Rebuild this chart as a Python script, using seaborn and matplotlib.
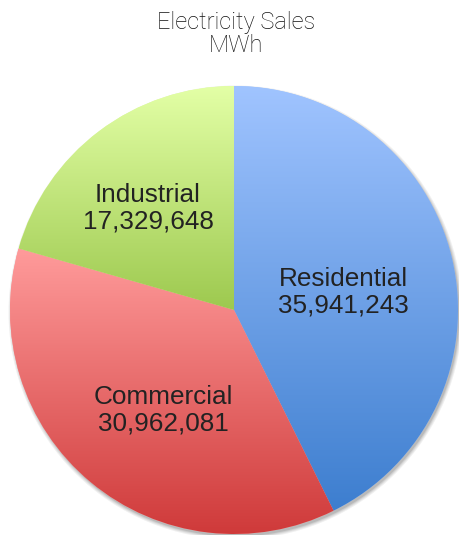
import numpy as np
import matplotlib
matplotlib.use("Agg")
import matplotlib.pyplot as plt
import seaborn as sns
from matplotlib.patches import Circle

# Electricity sales by customer class (MWh)
categories = ["Residential", "Commercial", "Industrial"]
sales_mwh = [35941243, 30962081, 17329648]
# top / bottom colours of each slice's vertical gradient
top_colors = ["#a0c4ff", "#ff9b9b", "#e3ffa6"]
bottom_colors = ["#3d7ecf", "#cf3a3a", "#9dc94f"]
# label anchor points (pixel space, y measured from the top)
label_xy = [(343, 292), (163, 410), (148, 208)]

sns.set_theme(style="white")
plt.rcParams["font.family"] = ["Liberation Sans", "DejaVu Sans"]

W, H = 460, 535
fig = plt.figure(figsize=(W / 100, H / 100), dpi=100)
ax = fig.add_axes([0, 0, 1, 1])
ax.set_xlim(0, W)
ax.set_ylim(0, H)
ax.set_aspect("equal")
ax.axis("off")

cx, cy, r = 234, H - 310, 224

# soft drop shadow behind the pie
for i, a in enumerate([0.06, 0.06, 0.08, 0.1]):
    ax.add_patch(Circle((cx + 1.5, cy - 2.5), r + 3 - i, color="black",
                        alpha=a, lw=0, zorder=0))

wedges, _ = ax.pie(sales_mwh, center=(cx, cy), radius=r, startangle=90,
                   counterclock=False, colors=top_colors, frame=True,
                   wedgeprops=dict(linewidth=0))
ax.set_xlim(0, W)
ax.set_ylim(0, H)
ax.axis("off")

grad = np.linspace(0, 1, 256).reshape(-1, 1)
for w, c0, c1 in zip(wedges, top_colors, bottom_colors):
    th = np.radians(np.linspace(w.theta1, w.theta2, 400))
    xs = np.concatenate([[w.center[0]], w.center[0] + w.r * np.cos(th)])
    ys = np.concatenate([[w.center[1]], w.center[1] + w.r * np.sin(th)])
    cmap = sns.blend_palette([c0, c1], as_cmap=True)
    im = ax.imshow(grad, cmap=cmap, aspect="auto", origin="upper",
                   extent=(xs.min(), xs.max(), ys.min(), ys.max()), zorder=2)
    im.set_clip_path(w)

for name, val, (lx, ly) in zip(categories, sales_mwh, label_xy):
    ax.text(lx, H - ly, f"{name}\n{val:,}", ha="center", va="center",
            fontsize=18.8, color="#222222", linespacing=1.12, zorder=5)

ax.text(cx + 2, H - 34, "Electricity Sales\nMWh", ha="center", va="center",
        fontsize=17, color="#111111", linespacing=1.05,
        family=["Roboto", "DejaVu Sans"], fontweight="light", zorder=5)

ax.set_xlim(0, W)
ax.set_ylim(0, H)
fig.savefig("out.png", dpi=100)
